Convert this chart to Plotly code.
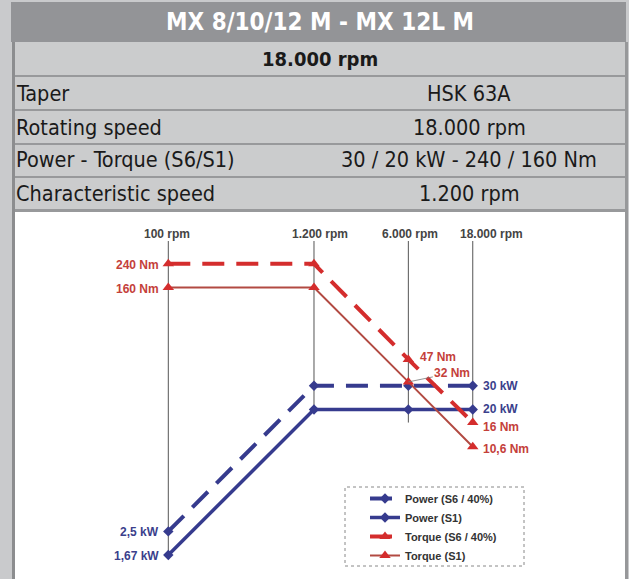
import numpy as np
import plotly.graph_objects as go

# ---------------- data ----------------
rpm = [100, 1200, 6000, 18000]
rpm_labels = ["100 rpm", "1.200 rpm", "6.000 rpm", "18.000 rpm"]
power_s6 = [2.5, 30, 30, 30]      # kW
power_s1 = [1.67, 20, 20, 20]     # kW
torque_s6 = [240, 240, 47, 16]    # Nm
torque_s1 = [160, 160, 32, 10.6]  # Nm
grid_top = 354
grid_bottom = [1.67, 20, 16, 16]

title = "MX 8/10/12 M - MX 12L M"
subtitle = "18.000 rpm"
row_names = ["Taper", "Rotating speed", "Power - Torque (S6/S1)", "Characteristic speed"]
row_values = ["HSK 63A", "18.000 rpm", "30 / 20 kW - 240 / 160 Nm", "1.200 rpm"]

# ---------------- geometry helpers ----------------
W, H = 629, 579
ML, MR, MT, MB = 15, 4, 212, 0
PW, PH = W - ML - MR, H - MT - MB


def px(x):
    return (x - ML) / PW


def py(y):
    return (H - MB - y) / PH


NAVY = "#363b8e"
RED = "#d42d2d"
BROWN = "#b24a42"
TRED = "#c4403a"
TNAVY = "#3b3f8c"
NARROW = "Liberation Sans Narrow, Arial Narrow, DejaVu Sans Condensed, sans-serif"
SANS = "Liberation Sans, Arial, sans-serif"


def fmt(v):
    return f"{v:g}".replace(".", ",")


fig = go.Figure()

# vertical reference lines
for i, r in enumerate(rpm):
    fig.add_trace(go.Scatter(x=[r, r], y=[grid_top, grid_bottom[i]], mode="lines",
                             line=dict(color="#555555", width=1), showlegend=False,
                             hoverinfo="skip"))

fig.add_trace(go.Scatter(x=rpm, y=power_s6, name="Power (S6 / 40%)", mode="lines+markers",
                         line=dict(color=NAVY, width=4, dash="22px,12px"),
                         marker=dict(symbol="diamond", size=8, color=NAVY)))
fig.add_trace(go.Scatter(x=rpm, y=power_s1, name="Power (S1)", mode="lines+markers",
                         line=dict(color=NAVY, width=3.5),
                         marker=dict(symbol="diamond", size=8, color=NAVY)))
fig.add_trace(go.Scatter(x=rpm, y=torque_s6, name="Torque (S6 / 40%)", mode="lines+markers",
                         line=dict(color=RED, width=4, dash="22px,12px"),
                         marker=dict(symbol="triangle-up", size=10, color=RED)))
fig.add_trace(go.Scatter(x=rpm, y=torque_s1, name="Torque (S1)", mode="lines+markers",
                         line=dict(color=BROWN, width=2),
                         marker=dict(symbol="triangle-up", size=10, color=RED)))

ann = []
lf = dict(family=SANS, size=12, weight="bold")

# rpm labels
shifts = [-1, 6, 2, 19]
for r, lab, s in zip(rpm, rpm_labels, shifts):
    ann.append(dict(x=np.log10(r), y=np.log10(grid_top), xref="x", yref="y", text=lab,
                    showarrow=False, xanchor="center", yanchor="bottom", xshift=s, yshift=-2,
                    font=dict(lf, color="#444444")))

# left value labels at 100 rpm
for series, unit, col in [(torque_s6, "Nm", TRED), (torque_s1, "Nm", TRED),
                          (power_s6, "kW", TNAVY), (power_s1, "kW", TNAVY)]:
    ann.append(dict(x=np.log10(rpm[0]), y=np.log10(series[0]), xref="x", yref="y",
                    text=f"{fmt(series[0])} {unit}", showarrow=False, xanchor="right",
                    yanchor="middle", xshift=-7, yshift=-1, font=dict(lf, color=col)))

# right value labels at 18000 rpm
for series, unit, col, ys in [(power_s6, "kW", TNAVY, 0), (power_s1, "kW", TNAVY, 0),
                              (torque_s6, "Nm", TRED, -4), (torque_s1, "Nm", TRED, -2)]:
    ann.append(dict(x=np.log10(rpm[-1]), y=np.log10(series[-1]), xref="x", yref="y",
                    text=f"{fmt(series[-1])} {unit}", showarrow=False, xanchor="left",
                    yanchor="middle", xshift=8, yshift=ys, font=dict(lf, color=col)))

# 6000 rpm torque labels
ann.append(dict(x=np.log10(rpm[2]), y=np.log10(torque_s6[2]), xref="x", yref="y",
                text=f"{fmt(torque_s6[2])} Nm", showarrow=False, xanchor="left",
                yanchor="middle", xshift=10, yshift=2, font=dict(lf, color=TRED)))
ann.append(dict(x=np.log10(rpm[2]), y=np.log10(torque_s1[2]), xref="x", yref="y",
                text=f"{fmt(torque_s1[2])} Nm", showarrow=True, arrowhead=0,
                arrowwidth=0.8, arrowcolor="#777777", ax=44, ay=-9,
                font=dict(lf, color=TRED)))

# table texts
ann.append(dict(x=px(320), y=py(22), xref="paper", yref="paper", text=title, showarrow=False,
                xanchor="center", yanchor="middle",
                font=dict(family=NARROW, size=24, color="white", weight="bold")))
ann.append(dict(x=px(320), y=py(59), xref="paper", yref="paper", text=subtitle, showarrow=False,
                xanchor="center", yanchor="middle",
                font=dict(family=NARROW, size=20, color="#1a1a1a", weight="bold")))
row_c = [93, 127, 160, 194]
for name, val, yc in zip(row_names, row_values, row_c):
    ann.append(dict(x=px(14), y=py(yc), xref="paper", yref="paper", text=name, showarrow=False,
                    xanchor="left", yanchor="middle",
                    font=dict(family=NARROW, size=21.5, color="#1a1a1a")))
    ann.append(dict(x=px(469), y=py(yc), xref="paper", yref="paper", text=val, showarrow=False,
                    xanchor="center", yanchor="middle",
                    font=dict(family=NARROW, size=21.5, color="#1a1a1a")))

shapes = []


def rect(x0, y0, x1, y1, color):
    shapes.append(dict(type="rect", xref="paper", yref="paper", x0=px(x0), x1=px(x1),
                       y0=py(y1), y1=py(y0), fillcolor=color, line=dict(width=0),
                       layer="above"))


rect(11, 42, 626, 212, "#cbcccd")
rect(11, 2, 626, 42, "#939497")
for y0, y1 in [(75, 77), (109, 111), (143, 145), (176, 178), (209, 212)]:
    rect(12, y0, 628, y1, "#98999b")
rect(12, 42, 15, 579, "#8c8d8f")
rect(625, 42, 628, 579, "#97989a")

# legend frame
shapes.append(dict(type="rect", xref="paper", yref="paper", x0=px(345), x1=px(524),
                   y0=py(566), y1=py(487), line=dict(color="#888888", width=1, dash="dot"),
                   fillcolor="rgba(0,0,0,0)", layer="above"))

fig.update_layout(
    width=W, height=H,
    margin=dict(l=ML, r=MR, t=MT, b=MB),
    paper_bgcolor="#c9cacc",
    plot_bgcolor="white",
    xaxis=dict(type="log", range=[0.8644, 5.383], visible=False, fixedrange=True),
    yaxis=dict(type="log", range=[0.0452, 2.7638], visible=False, fixedrange=True),
    annotations=ann,
    shapes=shapes,
    showlegend=True,
    legend=dict(x=px(365), y=py(484), xanchor="left", yanchor="top",
                bgcolor="rgba(255,255,255,0)", borderwidth=0,
                font=dict(family=SANS, size=11, color="#333333", weight="bold"),
                tracegroupgap=0, itemwidth=30),
    font=dict(family=SANS),
)

fig.write_html("out.html", config={"displayModeBar": False},
               post_script="document.body.style.margin='0';document.body.style.overflow='hidden';")
